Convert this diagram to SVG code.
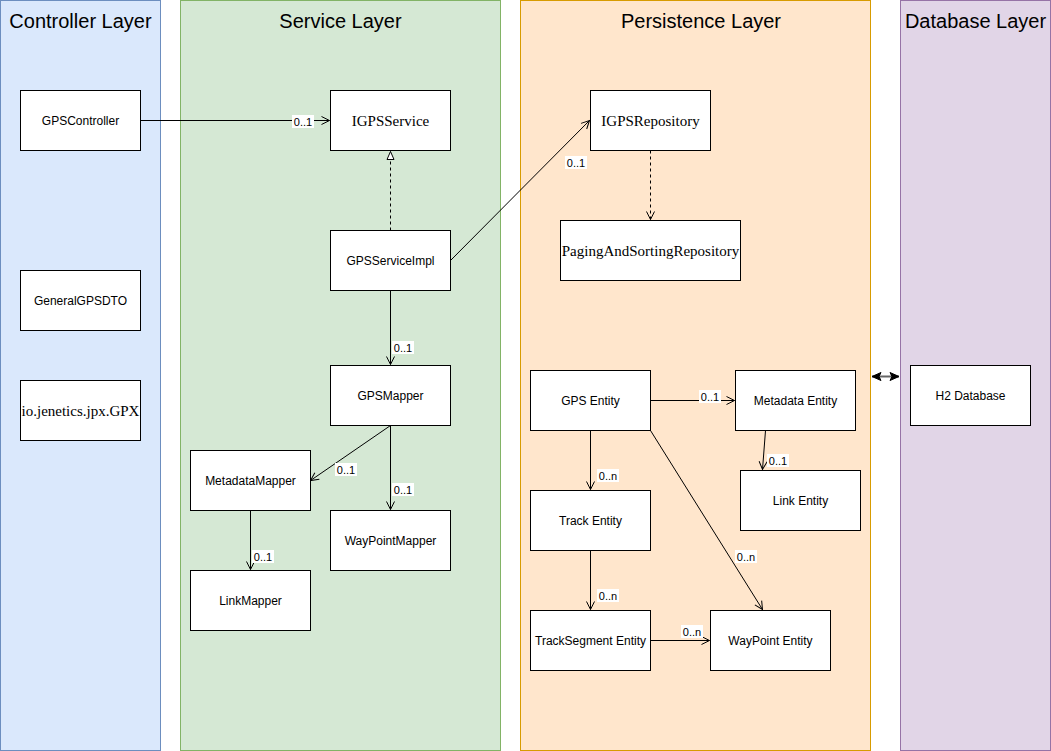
<svg xmlns="http://www.w3.org/2000/svg" width="1051" height="751" viewBox="0 0 1051 751">
<defs>
<style>
.box{fill:#ffffff;stroke:#000000;stroke-width:1}
.t{font-family:"Liberation Sans",Arial,sans-serif;font-size:12px;fill:#000;text-anchor:middle;dominant-baseline:central}
.s{font-family:"Liberation Serif","Times New Roman",serif;font-size:15px;fill:#000;text-anchor:middle;dominant-baseline:central}
.title{font-family:"Liberation Sans",Arial,sans-serif;font-size:20px;fill:#000;text-anchor:middle}
.e{fill:none;stroke:#000;stroke-width:1}
.lbl{font-family:"Liberation Sans",Arial,sans-serif;font-size:11px;fill:#000;text-anchor:middle;dominant-baseline:central}
.lb{fill:#fff}
</style>
<marker id="open" markerUnits="userSpaceOnUse" markerWidth="12" markerHeight="12" viewBox="0 0 12 12" refX="10" refY="6" orient="auto">
<path d="M2,2 L10,6 L2,10" fill="none" stroke="#000" stroke-width="1"/>
</marker>
<marker id="tri" markerUnits="userSpaceOnUse" markerWidth="12" markerHeight="12" viewBox="0 0 12 12" refX="10" refY="6" orient="auto">
<path d="M2,2.5 L10,6 L2,9.5 Z" fill="#fff" stroke="#000" stroke-width="1"/>
</marker>
<marker id="cls" markerUnits="userSpaceOnUse" markerWidth="12" markerHeight="12" viewBox="0 0 12 12" refX="10" refY="6" orient="auto-start-reverse">
<path d="M1,2 L10,6 L1,10 L3,6 Z" fill="#000" stroke="#000" stroke-width="1"/>
</marker>
</defs>
<g id="layers">
<g id="controller-layer">
<rect x="0.5" y="0.5" width="160" height="750" fill="#dae8fc" stroke="#6c8ebf"/>
<text class="title" x="80.5" y="28">Controller Layer</text>
</g>
<g id="service-layer">
<rect x="180.5" y="0.5" width="320" height="750" fill="#d5e8d4" stroke="#82b366"/>
<text class="title" x="340.5" y="28">Service Layer</text>
</g>
<g id="persistence-layer">
<rect x="520.5" y="0.5" width="350" height="750" fill="#ffe6cc" stroke="#d79b00"/>
<text class="title" x="701" y="28">Persistence Layer</text>
</g>
<g id="database-layer">
<rect x="900.5" y="0.5" width="150" height="750" fill="#e1d5e7" stroke="#9673a6"/>
<text class="title" x="975.5" y="28">Database Layer</text>
</g>
</g>
<g id="connectors">
<path class="e" d="M140.5,120.5 L329.5,120.5" marker-end="url(#open)"/>
<path class="e" d="M390.5,230.5 L390.5,151.5" stroke-dasharray="3,3" marker-end="url(#tri)"/>
<path class="e" d="M450.5,260.5 L589.5,120.5" stroke="#333" marker-end="url(#open)"/>
<path class="e" d="M650.5,150.5 L650.5,219.5" stroke-dasharray="3,3" marker-end="url(#open)"/>
<path class="e" d="M390.5,290.5 L390.5,364.5" marker-end="url(#open)"/>
<path class="e" d="M390.5,425.5 L310.5,480.5" marker-end="url(#open)"/>
<path class="e" d="M390.5,425.5 L390.5,509.5" marker-end="url(#open)"/>
<path class="e" d="M250.5,510.5 L250.5,569.5" marker-end="url(#open)"/>
<path class="e" d="M650.5,400.5 L734.5,400.5" marker-end="url(#open)"/>
<path class="e" d="M590.5,430.5 L590.5,489.5" marker-end="url(#open)"/>
<path class="e" d="M765.5,430.5 L762.5,469.5" marker-end="url(#open)"/>
<path class="e" d="M650.5,430.5 L762.5,609.5" marker-end="url(#open)"/>
<path class="e" d="M590.5,550.5 L590.5,609.5" marker-end="url(#open)"/>
<path class="e" d="M650.5,640.5 L709.5,640.5" marker-end="url(#open)"/>
<path d="M872,376.5 L899,376.5" fill="none" stroke="#666" stroke-width="2" marker-start="url(#cls)" marker-end="url(#cls)"/>
<g id="labels">
<rect class="lb" x="292" y="115" width="22" height="13"/><text class="lbl" x="303" y="121.5">0..1</text>
<rect class="lb" x="565" y="156" width="22" height="13"/><text class="lbl" x="576" y="162.5">0..1</text>
<rect class="lb" x="392" y="341" width="22" height="13"/><text class="lbl" x="403" y="347.5">0..1</text>
<rect class="lb" x="335" y="463" width="22" height="13"/><text class="lbl" x="346" y="469.5">0..1</text>
<rect class="lb" x="392" y="483" width="22" height="13"/><text class="lbl" x="403" y="489.5">0..1</text>
<rect class="lb" x="252" y="550" width="22" height="13"/><text class="lbl" x="263" y="556.5">0..1</text>
<rect class="lb" x="699" y="390" width="22" height="13"/><text class="lbl" x="710" y="396.5">0..1</text>
<rect class="lb" x="597" y="469" width="22" height="13"/><text class="lbl" x="608" y="475.5">0..n</text>
<rect class="lb" x="767" y="454" width="22" height="13"/><text class="lbl" x="778" y="460.5">0..1</text>
<rect class="lb" x="735" y="550" width="22" height="13"/><text class="lbl" x="746" y="556.5">0..n</text>
<rect class="lb" x="597" y="589" width="22" height="13"/><text class="lbl" x="608" y="595.5">0..n</text>
<rect class="lb" x="681" y="625" width="22" height="13"/><text class="lbl" x="692" y="631.5">0..n</text>
</g>
</g>
<g id="n-gpscontroller"><rect class="box" x="20.5" y="90.5" width="120" height="60"/><text class="t" x="80.5" y="121">GPSController</text></g>
<g id="n-generalgpsdto"><rect class="box" x="20.5" y="270.5" width="120" height="60"/><text class="t" x="80.5" y="301">GeneralGPSDTO</text></g>
<g id="n-gpx"><rect class="box" x="20.5" y="380.5" width="120" height="60"/><text class="s" x="80.5" y="411">io.jenetics.jpx.GPX</text></g>
<g id="n-igpsservice"><rect class="box" x="330.5" y="90.5" width="120" height="60"/><text class="s" x="390.5" y="121">IGPSService</text></g>
<g id="n-gpsserviceimpl"><rect class="box" x="330.5" y="230.5" width="120" height="60"/><text class="t" x="390.5" y="261">GPSServiceImpl</text></g>
<g id="n-gpsmapper"><rect class="box" x="330.5" y="365.5" width="120" height="60"/><text class="t" x="390.5" y="396">GPSMapper</text></g>
<g id="n-metadatamapper"><rect class="box" x="190.5" y="450.5" width="120" height="60"/><text class="t" x="250.5" y="481">MetadataMapper</text></g>
<g id="n-waypointmapper"><rect class="box" x="330.5" y="510.5" width="120" height="60"/><text class="t" x="390.5" y="541">WayPointMapper</text></g>
<g id="n-linkmapper"><rect class="box" x="190.5" y="570.5" width="120" height="60"/><text class="t" x="250.5" y="601">LinkMapper</text></g>
<g id="n-igpsrepository"><rect class="box" x="590.5" y="90.5" width="120" height="60"/><text class="s" x="650.5" y="121">IGPSRepository</text></g>
<g id="n-pagingandsorting"><rect class="box" x="560.5" y="220.5" width="180" height="60"/><text class="s" x="650.5" y="251">PagingAndSortingRepository</text></g>
<g id="n-gpsentity"><rect class="box" x="530.5" y="370.5" width="120" height="60"/><text class="t" x="590.5" y="401">GPS Entity</text></g>
<g id="n-metadataentity"><rect class="box" x="735.5" y="370.5" width="120" height="60"/><text class="t" x="795.5" y="401">Metadata Entity</text></g>
<g id="n-linkentity"><rect class="box" x="740.5" y="470.5" width="120" height="60"/><text class="t" x="800.5" y="501">Link Entity</text></g>
<g id="n-trackentity"><rect class="box" x="530.5" y="490.5" width="120" height="60"/><text class="t" x="590.5" y="521">Track Entity</text></g>
<g id="n-tracksegmententity"><rect class="box" x="530.5" y="610.5" width="120" height="60"/><text class="t" x="590.5" y="641">TrackSegment Entity</text></g>
<g id="n-waypointentity"><rect class="box" x="710.5" y="610.5" width="120" height="60"/><text class="t" x="770.5" y="641">WayPoint Entity</text></g>
<g id="n-h2database"><rect class="box" x="910.5" y="365.5" width="120" height="60"/><text class="t" x="970.5" y="396">H2 Database</text></g>
</svg>
